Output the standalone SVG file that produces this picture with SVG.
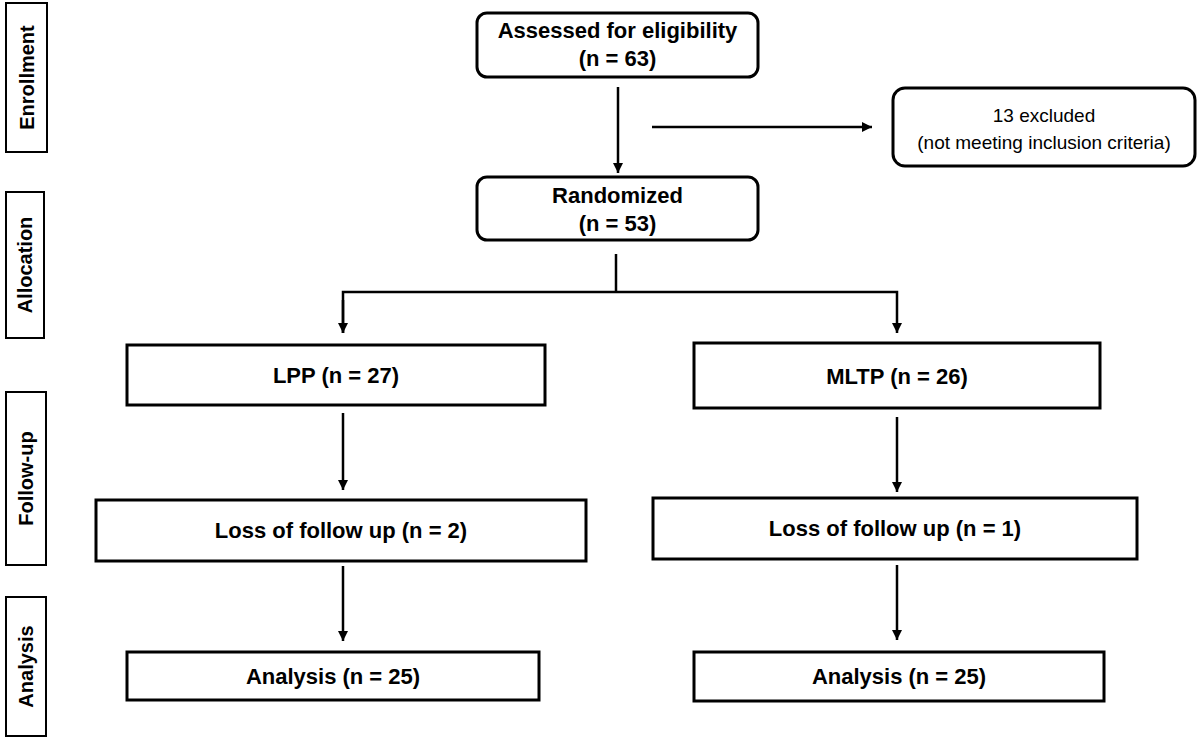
<svg xmlns="http://www.w3.org/2000/svg" width="1200" height="741" viewBox="0 0 1200 741">
<defs>
<style>
.box{fill:#fff;stroke:#000;stroke-width:3}
.side{fill:#fff;stroke:#000;stroke-width:2}
.t{font-family:"Liberation Sans",Arial,sans-serif;font-weight:bold;font-size:22px;text-anchor:middle;fill:#000}
.n{font-family:"Liberation Sans",Arial,sans-serif;font-size:19px;text-anchor:middle;fill:#000}
.s{font-family:"Liberation Sans",Arial,sans-serif;font-weight:bold;font-size:20px;text-anchor:middle;fill:#000}
.c{fill:none;stroke:#000;stroke-width:2.5}
</style>
<marker id="ah" viewBox="0 0 10 10" refX="10" refY="5" markerWidth="4" markerHeight="4" orient="auto" markerUnits="strokeWidth">
<path d="M0,0 L10,5 L0,10 Z" fill="#000"/>
</marker>
</defs>
<rect width="1200" height="741" fill="#fff"/>

<g id="label-enrollment">
<rect class="side" x="6" y="3" width="41" height="149"/>
<text class="s" transform="translate(34,77.5) rotate(-90)">Enrollment</text>
</g>
<g id="label-allocation">
<rect class="side" x="6" y="192" width="38" height="146"/>
<text class="s" transform="translate(32,265) rotate(-90)">Allocation</text>
</g>
<g id="label-followup">
<rect class="side" x="6" y="392" width="40" height="173"/>
<text class="s" transform="translate(33,478.5) rotate(-90)">Follow-up</text>
</g>
<g id="label-analysis">
<rect class="side" x="6" y="597" width="40" height="139"/>
<text class="s" transform="translate(33,666.5) rotate(-90)">Analysis</text>
</g>

<g id="assessed">
<rect class="box" x="477" y="13" width="281" height="64" rx="10"/>
<text class="t" x="617.5" y="38">Assessed for eligibility</text>
<text class="t" x="617.5" y="66">(n = 63)</text>
</g>
<g id="excluded">
<rect class="box" x="893" y="88" width="302" height="78" rx="12"/>
<text class="n" x="1044" y="122">13 excluded</text>
<text class="n" x="1044" y="149">(not meeting inclusion criteria)</text>
</g>
<g id="randomized">
<rect class="box" x="477" y="177" width="281" height="63" rx="10"/>
<text class="t" x="617.5" y="203">Randomized</text>
<text class="t" x="617.5" y="231">(n = 53)</text>
</g>
<g id="lpp">
<rect class="box" x="127" y="345" width="418" height="60"/>
<text class="t" x="336" y="383">LPP (n = 27)</text>
</g>
<g id="mltp">
<rect class="box" x="694" y="343" width="406" height="65"/>
<text class="t" x="897" y="384">MLTP (n = 26)</text>
</g>
<g id="loss-left">
<rect class="box" x="96" y="500" width="490" height="61"/>
<text class="t" x="341" y="538">Loss of follow up (n = 2)</text>
</g>
<g id="loss-right">
<rect class="box" x="653" y="498" width="484" height="61"/>
<text class="t" x="895" y="536">Loss of follow up (n = 1)</text>
</g>
<g id="analysis-left">
<rect class="box" x="127" y="652" width="412" height="48"/>
<text class="t" x="333" y="684">Analysis (n = 25)</text>
</g>
<g id="analysis-right">
<rect class="box" x="694" y="652" width="410" height="49"/>
<text class="t" x="899" y="684">Analysis (n = 25)</text>
</g>

<g id="connectors">
<line class="c" x1="618" y1="87" x2="618" y2="173" marker-end="url(#ah)"/>
<line class="c" x1="652" y1="127" x2="872" y2="127" marker-end="url(#ah)"/>
<polyline class="c" points="616,254 616,292"/>
<polyline class="c" points="343,333 343,292 897,292 897,333" marker-end="url(#ah)"/>
<line class="c" x1="343" y1="300" x2="343" y2="333" marker-end="url(#ah)"/>
<line class="c" x1="343" y1="413" x2="343" y2="490" marker-end="url(#ah)"/>
<line class="c" x1="897" y1="417" x2="897" y2="492" marker-end="url(#ah)"/>
<line class="c" x1="343" y1="566" x2="343" y2="641" marker-end="url(#ah)"/>
<line class="c" x1="897" y1="565" x2="897" y2="640" marker-end="url(#ah)"/>
</g>
</svg>
